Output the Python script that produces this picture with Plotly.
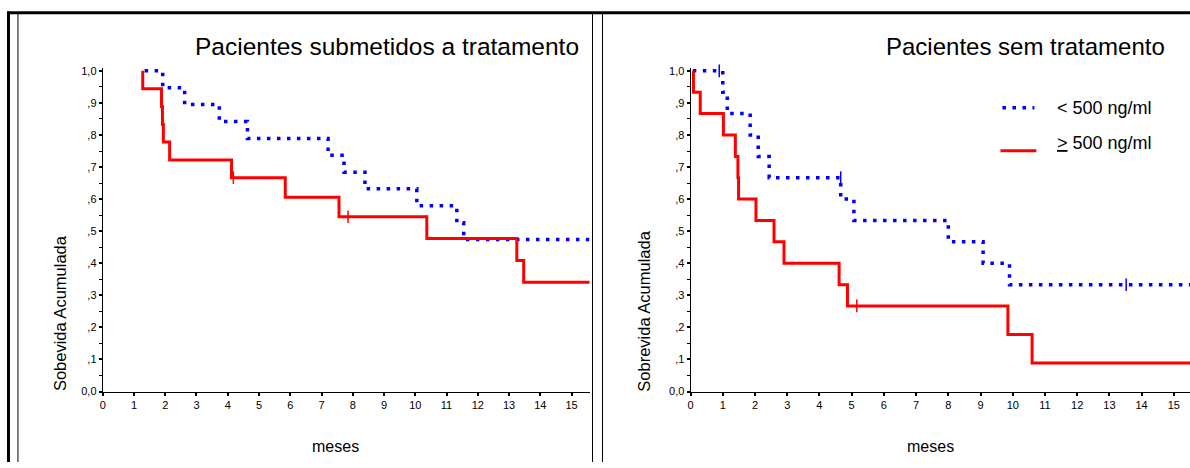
import plotly.graph_objects as go

W, H = 1190, 468
FONT = "Liberation Sans, Arial, sans-serif"

# ---------------- data ----------------
# Left panel: "Pacientes submetidos a tratamento"
left_low_t = [1.34, 1.92, 2.62, 3.73, 4.63, 7.21, 7.72, 8.39, 10.05, 11.33, 11.55, 15.6]
left_low_s = [1.0, 0.947, 0.895, 0.842, 0.789, 0.737, 0.684, 0.632, 0.579, 0.526, 0.474, 0.474]
left_high_t = [1.28, 1.28, 1.88, 1.91, 1.94, 2.14, 4.12, 5.84, 7.56, 10.37, 13.25, 13.47, 15.6]
left_high_s = [1.0, 0.944, 0.889, 0.833, 0.778, 0.722, 0.667, 0.606, 0.545, 0.477, 0.409, 0.341, 0.341]
left_high_cens_t = [4.18, 7.85]
left_high_cens_s = [0.667, 0.545]

# Right panel: "Pacientes sem tratamento"
right_low_t = [0.07, 1.0, 1.14, 1.85, 2.1, 2.44, 4.66, 5.07, 8.0, 9.08, 9.9, 15.7]
right_low_s = [1.0, 0.933, 0.867, 0.8, 0.733, 0.667, 0.6, 0.533, 0.467, 0.4, 0.333, 0.333]
right_low_cens_t = [0.89, 4.66, 13.52]
right_low_cens_s = [1.0, 0.667, 0.333]
right_high_t = [0.09, 0.09, 0.3, 1.02, 1.39, 1.47, 1.49, 2.03, 2.59, 2.9, 4.61, 4.87, 9.85, 10.6, 15.7]
right_high_s = [1.0, 0.933, 0.867, 0.8, 0.733, 0.667, 0.6, 0.533, 0.467, 0.4, 0.333, 0.267, 0.178, 0.089, 0.089]
right_high_cens_t = [5.16]
right_high_cens_s = [0.267]

y_tickvals = [0, 0.1, 0.2, 0.3, 0.4, 0.5, 0.6, 0.7, 0.8, 0.9, 1.0]
y_ticktext = ["0,0", ",1", ",2", ",3", ",4", ",5", ",6", ",7", ",8", ",9", "1,0"]
x_tickvals = list(range(0, 16))
x_ticktext = [str(v) for v in x_tickvals]

series_names = ["< 500 ng/ml", "<u>></u> 500 ng/ml"]
titles = ["Pacientes submetidos a tratamento", "Pacientes sem tratamento"]
y_titles = ["Sobevida Acumulada", "Sobrevida Acumulada"]
x_title = "meses"

BLUE = "#0000ff"
RED = "#ff0000"
DOT = "3.5px,6.5px"


def px(x):
    return x / W


def py(y):
    return 1 - y / H


fig = go.Figure()

def add_panel(xa, ya, low_t, low_s, high_t, high_s, cens):
    fig.add_trace(go.Scatter(x=low_t, y=low_s, mode="lines", line_shape="hv",
                             line=dict(color=BLUE, width=3.5, dash=DOT),
                             xaxis=xa, yaxis=ya, showlegend=False, hoverinfo="skip"))
    fig.add_trace(go.Scatter(x=high_t, y=high_s, mode="lines", line_shape="hv",
                             line=dict(color=RED, width=3),
                             xaxis=xa, yaxis=ya, showlegend=False, hoverinfo="skip"))
    for (ct, cs, col) in cens:
        if ct:
            fig.add_trace(go.Scatter(x=ct, y=cs, mode="markers",
                                     marker=dict(symbol="line-ns-open", size=9, color=col,
                                                 line=dict(color=col, width=1.5)),
                                     xaxis=xa, yaxis=ya, showlegend=False,
                                     hoverinfo="skip", cliponaxis=False))

add_panel("x", "y", left_low_t, left_low_s, left_high_t, left_high_s,
          [([], [], BLUE), (left_high_cens_t, left_high_cens_s, RED)])
add_panel("x2", "y2", right_low_t, right_low_s, right_high_t, right_high_s,
          [(right_low_cens_t, right_low_cens_s, BLUE), (right_high_cens_t, right_high_cens_s, RED)])

# geometry (pixels)
y0_px, y1_px = 396.0, 68.3           # y=0 and y=1 positions
ppu = y0_px - y1_px
ytop = 1.008
ydom = [py(y0_px), py(y0_px - ytop * ppu)]

lx0, lscale, lx1 = 100.0, 31.33, 588.0
rx0, rscale, rx1 = 689.3, 32.3, 1190.0

common_x = dict(showgrid=False, zeroline=False, showline=True, linecolor="black", linewidth=1,
                ticks="outside", ticklen=3, tickwidth=2, tickcolor="black",
                tickvals=x_tickvals, ticktext=x_ticktext,
                tickfont=dict(family=FONT, size=11, color="black"), fixedrange=True)
common_y = dict(showgrid=False, zeroline=False, showline=True, linecolor="black", linewidth=1,
                ticks="outside", ticklen=3, tickwidth=2, tickcolor="black",
                tickvals=y_tickvals, ticktext=y_ticktext, range=[0, ytop],
                minor=dict(tickvals=[0.05, 0.15, 0.25, 0.35, 0.45, 0.55, 0.65, 0.75, 0.85, 0.95],
                           ticks="outside", ticklen=3, tickwidth=1, tickcolor="black"),
                tickfont=dict(family=FONT, size=11, color="black"), fixedrange=True)

fig.update_layout(
    width=W, height=H, margin=dict(l=0, r=0, t=0, b=0),
    paper_bgcolor="white", plot_bgcolor="white",
    font=dict(family=FONT, color="black"),
    xaxis=dict(domain=[px(lx0), px(lx1)], range=[0, (lx1 - lx0) / lscale], anchor="y", **common_x),
    yaxis=dict(domain=ydom, anchor="x", **common_y),
    xaxis2=dict(domain=[px(rx0), px(rx1)], range=[0, (rx1 - rx0) / rscale], anchor="y2", **common_x),
    yaxis2=dict(domain=ydom, anchor="x2", **common_y),
)

ann = []
# titles
ann.append(dict(text=titles[0], x=px(579), y=py(43), xref="paper", yref="paper",
                xanchor="right", yanchor="middle", showarrow=False,
                font=dict(family=FONT, size=24.5, color="black")))
ann.append(dict(text=titles[1], x=px(1167), y=py(43), xref="paper", yref="paper",
                xanchor="right", yanchor="middle", showarrow=False,
                font=dict(family=FONT, size=24, color="black")))
# x titles
for cx in (333, 930):
    ann.append(dict(text=x_title, x=px(cx), y=py(452), xref="paper", yref="paper",
                    xanchor="center", yanchor="middle", showarrow=False,
                    font=dict(family=FONT, size=16, color="black")))
# y titles
for cx, cy, t in ((57, 316, y_titles[0]), (643, 314, y_titles[1])):
    ann.append(dict(text=t, x=px(cx), y=py(cy), xref="paper", yref="paper",
                    xanchor="center", yanchor="middle", showarrow=False, textangle=-90,
                    font=dict(family=FONT, size=16.5, color="black")))
# legend texts
ann.append(dict(text=series_names[0], x=px(1055), y=py(106), xref="paper", yref="paper",
                xanchor="left", yanchor="middle", showarrow=False,
                font=dict(family=FONT, size=18, color="black")))
ann.append(dict(text=series_names[1], x=px(1055), y=py(142), xref="paper", yref="paper",
                xanchor="left", yanchor="middle", showarrow=False,
                font=dict(family=FONT, size=18, color="black")))

shapes = []
# legend samples
shapes.append(dict(type="line", xref="paper", yref="paper", x0=px(1002), x1=px(1034),
                   y0=py(106), y1=py(106), line=dict(color=BLUE, width=3.5, dash=DOT)))
shapes.append(dict(type="line", xref="paper", yref="paper", x0=px(1000), x1=px(1036),
                   y0=py(150), y1=py(150), line=dict(color=RED, width=3)))
# frame
shapes.append(dict(type="line", xref="paper", yref="paper", x0=px(4), x1=1,
                   y0=py(9), y1=py(9), line=dict(color="black", width=3)))
shapes.append(dict(type="line", xref="paper", yref="paper", x0=px(5.5), x1=px(5.5),
                   y0=py(8), y1=0, line=dict(color="black", width=3)))
for vx in (15, 591, 601):
    shapes.append(dict(type="line", xref="paper", yref="paper", x0=px(vx), x1=px(vx),
                       y0=py(9), y1=0, line=dict(color="black", width=1)))

fig.update_layout(annotations=ann, shapes=shapes)
fig.write_html("out.html", config={"displayModeBar": False},
               post_script="document.body.style.margin='0px';document.body.style.padding='0px';")
